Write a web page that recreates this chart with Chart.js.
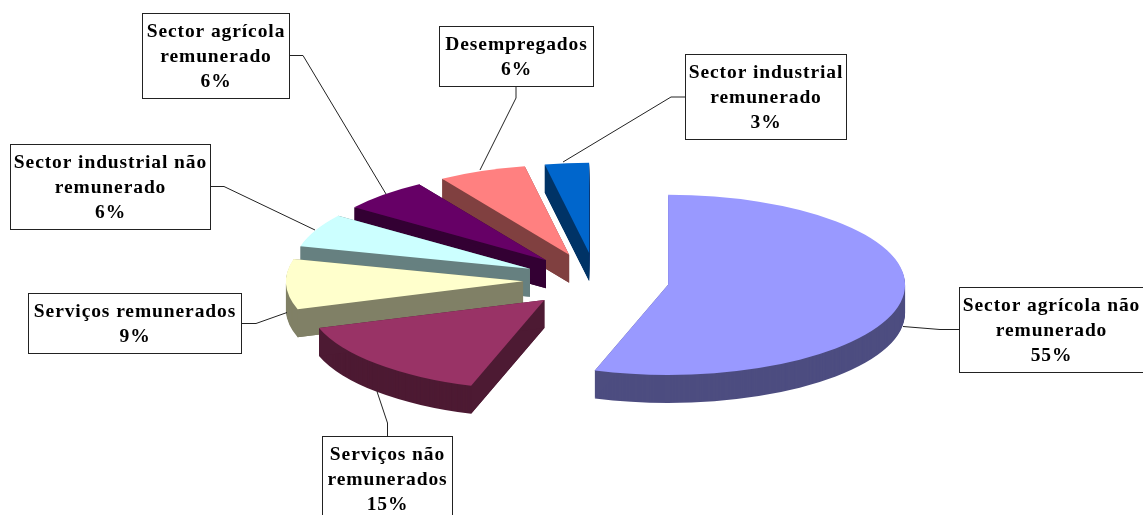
<!DOCTYPE html>
<html>
<head>
<meta charset="utf-8">
<style>
  html, body { margin: 0; padding: 0; background: #fff; }
  canvas { display: block; }
</style>
<script src="https://cdn.jsdelivr.net/npm/chart.js@4/dist/chart.umd.min.js"></script>
</head>
<body>
<canvas id="pie3d" width="1143" height="515"></canvas>
<script>
// clockwise from 12 o'clock
const categories = [
  "Sector agrícola não remunerado",
  "Serviços não remunerados",
  "Serviços remunerados",
  "Sector industrial não remunerado",
  "Sector agrícola remunerado",
  "Desempregados",
  "Sector industrial remunerado",
];
const shares = [55, 15, 9, 6, 6, 6, 3];
const topColors = ["#9999FF", "#993366", "#FFFFCC", "#CCFFFF", "#660066", "#FF8080", "#0066CC"];
const wallColors = ["#4D4D80", "#4D1A33", "#808066", "#668080", "#330033", "#804040", "#003366"];

// label boxes [x, y, w, h] and their leader lines, same order as categories
const boxes = [
  [959.5, 287.5, 184, 85],
  [322.5, 436.5, 130, 85],
  [28.5, 293.5, 213, 60],
  [10.5, 144.5, 200, 85],
  [142.5, 13.5, 147, 85],
  [439.5, 26.5, 154, 60],
  [685.5, 54.5, 161, 85],
];
const leaders = [
  [[959, 329.5], [940, 329.5], [903, 326.5]],
  [[387.5, 436], [387.5, 423], [377, 391.5]],
  [[242, 323.5], [256, 323.5], [287, 312.5]],
  [[211, 186.5], [224, 186.5], [315, 230]],
  [[290, 55.5], [303, 55.5], [386, 194]],
  [[516, 87], [516, 98], [480, 170]],
  [[685, 97], [671, 97], [563, 162]],
];

const RADIUS = 237;
const SQUASH = 0.38;   // ellipse height / width
const EXPLODE = 73;    // slice pull-out, before squash
const DEPTH = 28;      // height of the pie walls

function placeSlice(ctx, arc, drop) {
  const mid = (arc.startAngle + arc.endAngle) / 2;
  ctx.translate(arc.x, arc.y + drop);
  ctx.scale(1, SQUASH);
  ctx.translate(Math.cos(mid) * EXPLODE, Math.sin(mid) * EXPLODE);
}

function fillSlice(ctx, arc, drop, color) {
  ctx.save();
  placeSlice(ctx, arc, drop);
  ctx.beginPath();
  ctx.moveTo(0, 0);
  ctx.arc(0, 0, arc.outerRadius, arc.startAngle, arc.endAngle);
  ctx.closePath();
  ctx.fillStyle = color;
  ctx.fill();
  ctx.restore();
}

// the two flat cut faces, the sweep alone leaves the thin tips blurry
function fillCutFaces(ctx, arc, color) {
  const h = DEPTH / SQUASH;
  ctx.save();
  placeSlice(ctx, arc, 0);
  ctx.fillStyle = color;
  [arc.startAngle, arc.endAngle].forEach(a => {
    const ex = Math.cos(a) * arc.outerRadius;
    const ey = Math.sin(a) * arc.outerRadius;
    ctx.beginPath();
    ctx.moveTo(0, 0);
    ctx.lineTo(ex, ey);
    ctx.lineTo(ex, ey + h);
    ctx.lineTo(0, h);
    ctx.closePath();
    ctx.fill();
  });
  ctx.restore();
}

function wrapLabel(ctx, text, maxWidth) {
  const lines = [];
  let line = "";
  text.split(" ").forEach(word => {
    const next = line ? line + " " + word : word;
    if (line && ctx.measureText(next).width > maxWidth) {
      lines.push(line);
      line = word;
    } else {
      line = next;
    }
  });
  lines.push(line);
  return lines;
}

const pie3d = {
  id: "pie3d",
  beforeDatasetsDraw(chart) {
    const ctx = chart.ctx;
    const arcs = chart.getDatasetMeta(0).data;
    // back slices first, the big front ones go over them
    for (let i = arcs.length - 1; i >= 0; i--) {
      for (let d = DEPTH; d > 0; d--) fillSlice(ctx, arcs[i], d, wallColors[i]);
      fillCutFaces(ctx, arcs[i], wallColors[i]);
      fillSlice(ctx, arcs[i], 0, topColors[i]);
    }
    return false;
  },
  afterDraw(chart) {
    const ctx = chart.ctx;
    ctx.save();
    ctx.font = "bold 19.5px 'Liberation Serif'";
    ctx.letterSpacing = "0.9px";
    ctx.textAlign = "center";
    ctx.textBaseline = "alphabetic";
    ctx.lineWidth = 1;
    categories.forEach((name, i) => {
      const [x, y, w, h] = boxes[i];
      ctx.strokeStyle = "#222";
      ctx.beginPath();
      leaders[i].forEach((p, j) => j ? ctx.lineTo(p[0], p[1]) : ctx.moveTo(p[0], p[1]));
      ctx.stroke();
      ctx.fillStyle = "#fff";
      ctx.fillRect(x, y, w, h);
      ctx.strokeRect(x, y, w, h);
      ctx.fillStyle = "#000";
      const lines = wrapLabel(ctx, name, w - 4);
      lines.push(shares[i] + "%");
      lines.forEach((line, j) => ctx.fillText(line, x + w / 2, y + 23 + j * 25.3));
    });
    ctx.restore();
  },
};

new Chart(document.getElementById("pie3d"), {
  type: "pie",
  data: {
    labels: categories,
    datasets: [{ data: shares, backgroundColor: topColors, borderWidth: 0 }],
  },
  options: {
    responsive: false,
    animation: false,
    radius: RADIUS,
    layout: { padding: { left: 49, top: 46 } },
    plugins: { legend: { display: false }, tooltip: { enabled: false } },
  },
  plugins: [pie3d],
});
</script>
</body>
</html>
